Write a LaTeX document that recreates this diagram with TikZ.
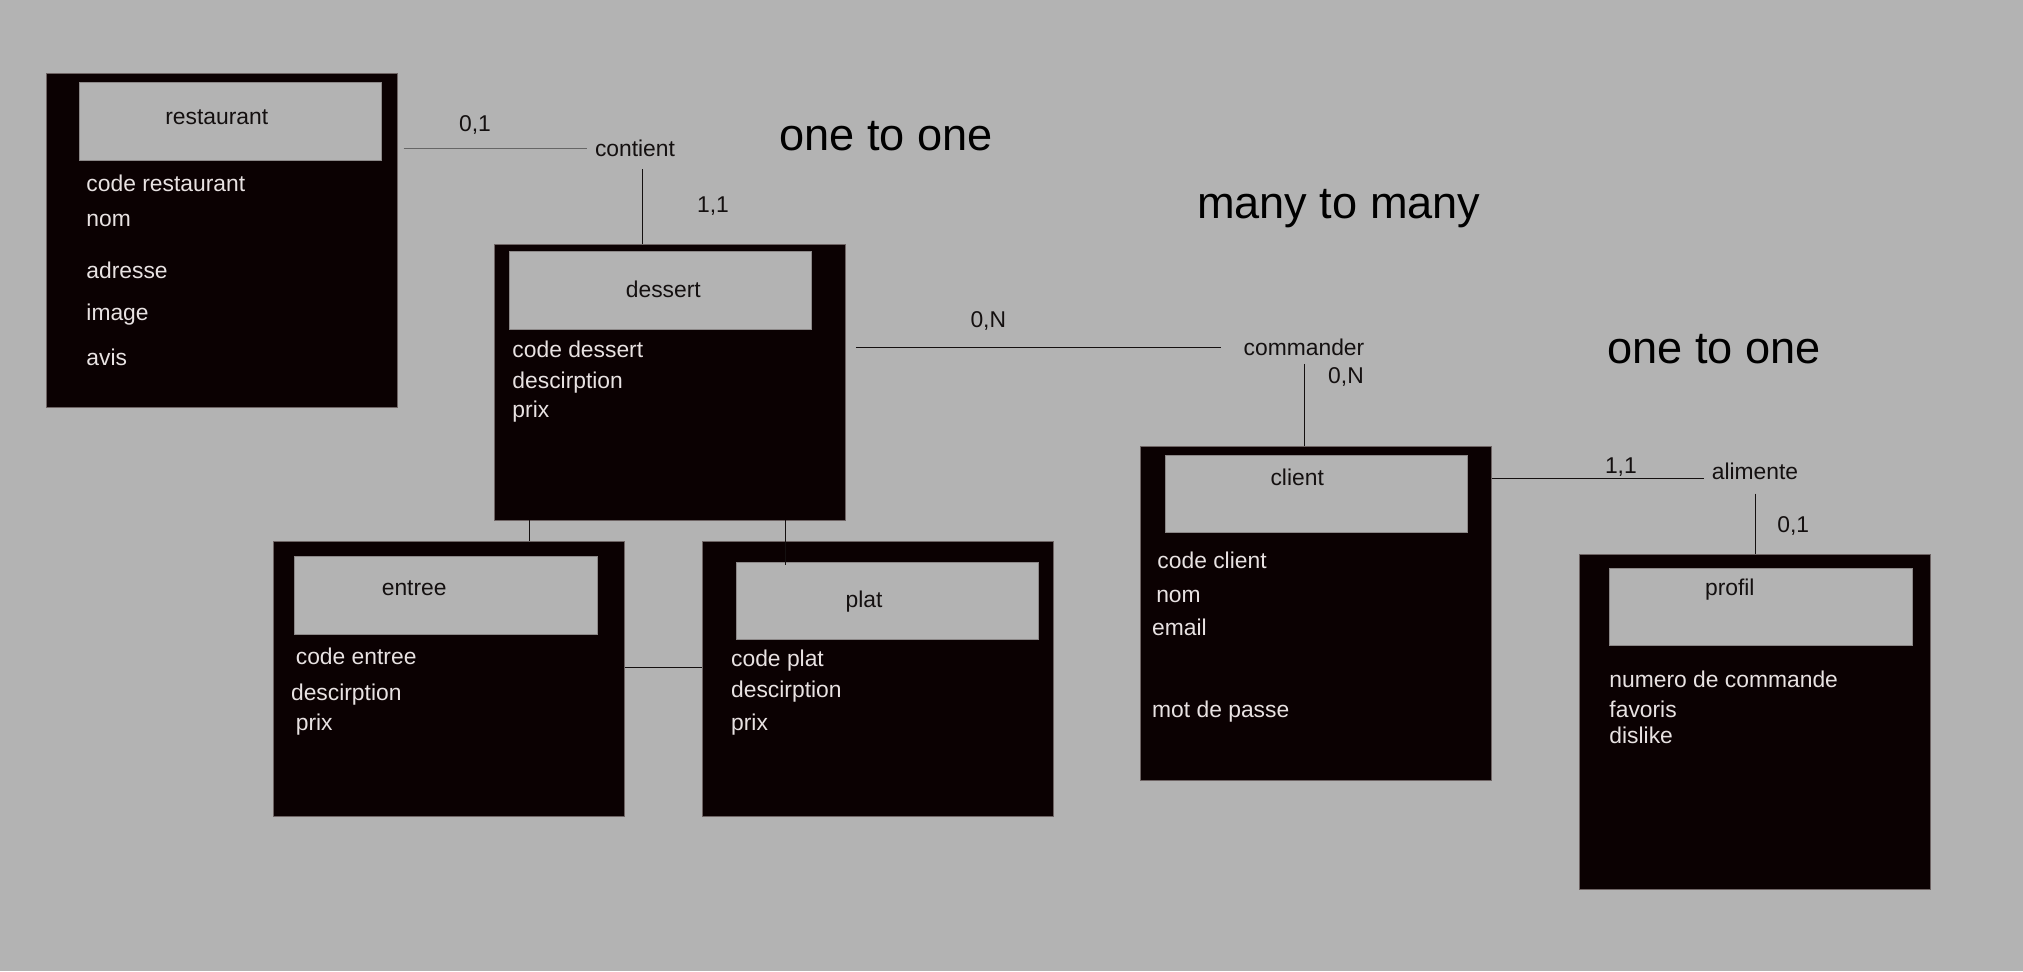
\documentclass[tikz,border=0pt]{standalone}
\usepackage{fontspec}
\setmainfont{Liberation Sans}
\usepackage{xcolor}
\definecolor{bg}{HTML}{B3B3B3}
\definecolor{boxfill}{HTML}{0B0102}
\definecolor{boxedge}{HTML}{6E6464}
\definecolor{baredge}{HTML}{8C8888}
\definecolor{attrtext}{HTML}{E8E2E2}
\definecolor{labeltext}{HTML}{141010}

\begin{document}
\begin{tikzpicture}[x=0.02cm,y=-0.02cm]
    \tikzstyle{entity}=[rectangle,fill=boxfill,draw=boxedge,line width=0.4pt,minimum width=7.02cm,inner sep=0pt]
    \tikzstyle{titlebar}=[rectangle,fill=bg,draw=baredge,line width=0.4pt,minimum width=6.05cm,minimum height=1.55cm,inner sep=0pt]
    \tikzstyle{tname}=[anchor=mid,inner sep=0pt,yshift=-1.2pt,text=labeltext,font=\fontsize{13}{15}\selectfont]
    \tikzstyle{attr}=[anchor=mid west,inner sep=0pt,yshift=-1.2pt,text=attrtext,font=\fontsize{13}{15}\selectfont]
    \tikzstyle{rel}=[anchor=mid,inner sep=4.4pt,text=labeltext,font=\fontsize{13}{15}\selectfont]
    \tikzstyle{card}=[inner sep=0pt,yshift=-0.8pt,text=labeltext,font=\fontsize{13}{15}\selectfont]
    \tikzstyle{heading}=[anchor=mid,inner sep=0pt,yshift=-4.1pt,text=black,font=\fontsize{25.7}{30}\selectfont]
    \tikzstyle{conn}=[line width=0.55pt,draw=labeltext]

    % Background
    \fill[bg] (0,0) rectangle (2023,971);
    \useasboundingbox (0,0) rectangle (2023,971);

    % Draw entities
    \node [entity,minimum height=6.68cm] (restaurant) at (221.9,240.6) {};
    \node [entity,minimum height=5.52cm] (dessert) at (669.65,382) {};
    \node [entity,minimum height=5.5cm] (entree) at (448.95,679.25) {};
    \node [entity,minimum height=5.5cm] (plat) at (877.6,679.25) {};
    \node [entity,minimum height=6.68cm] (client) at (1316,613.5) {};
    \node [entity,minimum height=6.69cm] (profil) at (1754.9,721.95) {};

    \node [titlebar] (restaurant-bar) at (230.55,121.35) {};
    \node [titlebar] (dessert-bar) at (660.1,290.35) {};
    \node [titlebar] (entree-bar) at (445.95,595.35) {};
    \node [titlebar] (plat-bar) at (887.15,600.65) {};
    \node [titlebar] (client-bar) at (1316.3,493.65) {};
    \node [titlebar] (profil-bar) at (1760.65,606.75) {};

    \node [tname] (restaurant-name) at (216.8,117.7) {restaurant};
    \node [tname] (dessert-name) at (663.3,290.7) {dessert};
    \node [tname] (entree-name) at (414.2,589) {entree};
    \node [tname] (plat-name) at (864.1,601) {plat};
    \node [tname] (client-name) at (1297.2,478.3) {client};
    \node [tname] (profil-name) at (1729.8,588.6) {profil};

    % Attributes
    \node [attr] (r1) at (86.1,185) {code restaurant};
    \node [attr] (r2) at (86.1,220) {nom};
    \node [attr] (r3) at (86.1,271.7) {adresse};
    \node [attr] (r4) at (86.1,314) {image};
    \node [attr] (r5) at (86.1,358.7) {avis};

    \node [attr] (d1) at (512.1,350.7) {code dessert};
    \node [attr] (d2) at (512.1,382) {descirption};
    \node [attr] (d3) at (512.1,410.3) {prix};

    \node [attr] (e1) at (295.5,657.3) {code entree};
    \node [attr] (e2) at (290.7,694) {descirption};
    \node [attr] (e3) at (295.5,724) {prix};

    \node [attr] (p1) at (730.8,659.7) {code plat};
    \node [attr] (p2) at (730.8,690.7) {descirption};
    \node [attr] (p3) at (730.8,724) {prix};

    \node [attr] (c1) at (1157.1,561.8) {code client};
    \node [attr] (c2) at (1155.9,595.4) {nom};
    \node [attr] (c3) at (1151.8,628.7) {email};
    \node [attr] (c4) at (1151.8,711) {mot de passe};

    \node [attr] (f1) at (1609.1,681.2) {numero de commande};
    \node [attr] (f2) at (1609.1,711) {favoris};
    \node [attr] (f3) at (1609.1,736.7) {dislike};

    % Associations
    \node [rel] (contient) at (635,152) {contient};
    \node [rel] (commander) at (1304,351) {commander};
    \node [rel] (alimente) at (1755,474.5) {alimente};

    \node [card] (card-r) at (475,124) {0,1};
    \node [card] (card-d) at (713,205) {1,1};
    \node [card] (card-dc) at (988.3,320) {0,N};
    \node [card] (card-cc) at (1346,375.4) {0,N};
    \node [card] (card-ca) at (1620.9,465.3) {1,1};
    \node [card] (card-p) at (1793.3,525) {0,1};

    \node [heading] (one-left) at (886,138.3) {one to one};
    \node [heading] (many) at (1338.8,207) {many to many};
    \node [heading] (one-right) at (1713.9,351.7) {one to one};

    % Connectors
    \coordinate (contient-foot) at ([xshift=4.5pt,yshift=-2.5pt]contient.south);
    \coordinate (alimente-in) at ([yshift=-4pt]alimente.west);
    \coordinate (dessert-left) at ([xshift=20.2pt]dessert.south west);
    \coordinate (dessert-right) at ([xshift=165.8pt]dessert.south west);
    \coordinate (side-link) at ([yshift=6.8pt]entree.east);

    \draw [conn,draw=black!60,shorten <=3.4pt] (restaurant.east |- contient.west) -- (contient.west);
    \draw [conn] (contient-foot) -- (contient-foot |- dessert.north);
    \draw [conn,shorten <=5.9pt,shorten >=8.2pt] (dessert.east |- commander.west) -- (commander.west);
    \draw [conn] (commander.south) -- (commander.south |- client.north);
    \draw [conn] (client.east |- alimente-in) -- (alimente-in);
    \draw [conn,shorten <=3.5pt] (alimente.south) -- (alimente.south |- profil.north);
    \draw [conn] (dessert-left) -- (dessert-left |- entree.north);
    \draw [conn,shorten >=-1.7pt] (dessert-right) -- (dessert-right |- plat-bar.north);
    \draw [conn] (side-link) -- (side-link -| plat.west);
\end{tikzpicture}
\end{document}
